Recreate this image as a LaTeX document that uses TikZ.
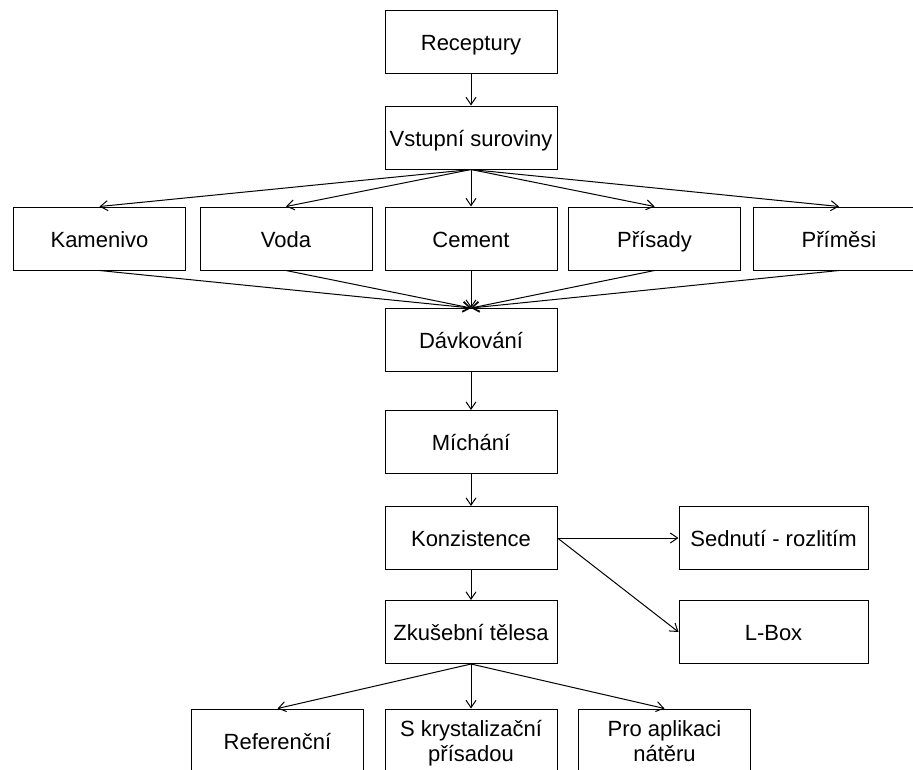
\documentclass[tikz,border=0pt]{standalone}
\usepackage{fontspec}
\setmainfont{Liberation Sans}
\usetikzlibrary{arrows.meta}
\begin{document}
\begin{tikzpicture}[x=0.75pt,y=-0.75pt,stage/.style={shape=rectangle,draw=black,line width=0.75pt,minimum width=129pt,minimum height=47.25pt,inner sep=0pt,text height=15pt,text depth=2.25pt,font=\fontsize{16.5}{18.75}\selectfont},stageW/.style={stage,minimum width=141.75pt},stageT/.style={stage,align=center,text height=33.75pt},flow/.style={draw=black,line width=0.75pt,-{Straight Barb[length=5.5pt,width=7.5pt]}}]
\def\xm{471};
\def\xa{185};
\def\xb{368};
\def\dy{96};

\useasboundingbox (0,0) rectangle (913,769);

\node[stage] (R) at (\xm,41.5) {Receptury};
\node[stage] (V) at (\xm,137.5) {Vstupní suroviny};
\draw[flow] (R.south) -- (V.north);

\node[stage] (Ka) at (\xm-\xb-3.5,238.5) {Kamenivo};
\draw[flow] (V.south) -- (Ka.north);
\node[stage] (Vo) at (\xm-\xa,238.5) {Voda};
\draw[flow] (V.south) -- (Vo.north);
\node[stage] (C) at (\xm,238.5) {Cement};
\draw[flow] (V.south) -- (C.north);
\node[stage] (Pa) at (\xm+\xa-1.5,238.5) {Přísady};
\draw[flow] (V.south) -- (Pa.north);
\node[stage] (Pm) at (\xm+\xb,238.5) {Příměsi};
\draw[flow] (V.south) -- (Pm.north);

\node[stage] (D) at (\xm,340) {Dávkování};
\draw[flow] (Ka.south) -- (D.north);
\draw[flow] (Vo.south) -- (D.north);
\draw[flow] (C.south) -- (D.north);
\draw[flow] (Pa.south) -- (D.north);
\draw[flow] (Pm.south) -- (D.north);

\node[stage] (M) at (\xm,442) {Míchání};
\draw[flow] (D.south) -- (M.north);

\node[stage] (K) at (\xm,538) {Konzistence};
\draw[flow] (M.south) -- (K.north);
\node[stageW] (S) at (773.5,538) {Sednutí - rozlitím};
\draw[flow] (K.east) -- (S.west);
\node[stageW] (L) at (773.5,632) {L-Box};
\draw[flow] (K.east) -- (L.west);

\node[stage] (Z) at (\xm,632) {Zkušební tělesa};
\draw[flow] (K.south) -- (Z.north);

\node[stage] (Rf) at (\xm-\dy-97.5,740.5) {Referenční};
\draw[flow] (Z.south) -- (Rf.north);
\node[stageT] (Sk) at (\xm,740.5) {S krystalizační\\přísadou};
\draw[flow] (Z.south) -- (Sk.north);
\node[stageT] (Pn) at (\xm+\dy+97.5,740.5) {Pro aplikaci\\nátěru};
\draw[flow] (Z.south) -- (Pn.north);
\end{tikzpicture}
\end{document}
